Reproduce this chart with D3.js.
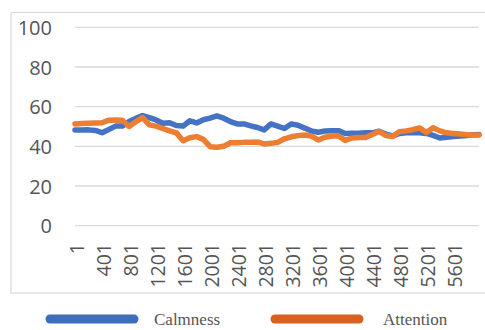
<!DOCTYPE html>
<html><head><meta charset="utf-8">
<script src="https://cdn.jsdelivr.net/npm/d3@7"></script>
<style>body{margin:0;background:#fff}svg{display:block}</style>
</head><body>
<svg id="c" width="485" height="330"></svg>
<script>
const sampleIndex = [1,101,201,301,401,501,601,701,801,901,1001,1101,1201,1301,1401,1501,1601,1701,1801,1901,2001,2101,2201,2301,2401,2501,2601,2701,2801,2901,3001,3101,3201,3301,3401,3501,3601,3701,3801,3901,4001,4101,4201,4301,4401,4501,4601,4701,4801,4901,5001,5101,5201,5301,5401,5501,5601,5701,5801,5901,5981];
const calmness = [48.2,48.2,48.3,48.0,46.9,48.5,50.2,50.2,52.5,54.1,55.5,54.5,53.3,51.6,51.9,50.5,50.2,52.9,51.8,53.4,54.2,55.3,54.2,52.5,51.3,51.3,50.3,49.5,48.3,51.3,50.2,49.0,51.3,50.6,49.2,47.7,47.1,47.7,47.9,47.9,46.5,46.6,46.6,46.9,46.8,47.6,46.2,45.3,46.4,46.8,46.9,46.8,46.5,45.5,44.2,44.6,45.0,45.2,45.5,45.9,46.0];
const attention = [51.3,51.5,51.7,51.8,51.9,53.2,53.3,53.2,50.0,52.4,54.5,50.8,50.2,49.0,47.8,46.8,42.8,44.3,44.9,43.5,39.8,39.5,40.0,41.8,41.8,42.0,42.1,42.2,41.2,41.5,42.0,43.8,44.8,45.4,45.7,45.2,43.2,44.6,45.2,45.2,43.0,44.2,44.5,44.5,46.0,47.5,45.5,45.0,47.4,47.8,48.4,49.3,47.0,49.4,47.8,46.8,46.5,46.2,45.9,45.7,45.7];
const xTicks = [1,401,801,1201,1601,2001,2401,2801,3201,3601,4001,4401,4801,5201,5601];
const yTicks = [0,20,40,60,80,100];
const seriesNames = ["Calmness","Attention"];

const svg = d3.select("#c");
// outer chart border
svg.append("rect").attr("x",11).attr("y",12.5).attr("width",490).attr("height",280.5)
  .attr("fill","none").attr("stroke","#d9d9d9").attr("stroke-width",1.2);

const x = d3.scaleLinear().domain([1,5981]).range([75,479]);
const y = d3.scaleLinear().domain([0,100]).range([225.7,27.3]);

// gridlines
svg.append("g").selectAll("line").data(yTicks).join("line")
  .attr("x1",75).attr("x2",479).attr("y1",d=>y(d)).attr("y2",d=>y(d))
  .attr("stroke","#d9d9d9").attr("stroke-width",1.3);

// y axis labels
const yAxis = d3.axisLeft(y).tickValues(yTicks).tickSize(0).tickPadding(0);
const ya = svg.append("g").attr("transform","translate(52,0)").call(yAxis);
ya.select(".domain").remove();
ya.selectAll("text").attr("font-family","'Open Sans'").attr("font-size",20).attr("fill","#555").attr("dy","0.36em");

// x axis labels
const xAxis = d3.axisBottom(x).tickValues(xTicks).tickFormat(d3.format("d")).tickSize(0).tickPadding(0);
const xa = svg.append("g").attr("transform","translate(0,243)").call(xAxis);
xa.select(".domain").remove();
xa.selectAll("text").attr("font-family","'Open Sans'").attr("font-size",19.5).attr("fill","#555")
  .attr("transform","rotate(-90)").attr("text-anchor","end").attr("x",0).attr("y",0).attr("dy","0.36em").attr("dx","0");
xa.selectAll(".tick").attr("transform",d=>`translate(${x(d)+2},0)`);

const line = d3.line().x((d,i)=>x(sampleIndex[i])).y(d=>y(d)).curve(d3.curveLinear);
const colors = ["#4472C4","#ED7D31"];
[calmness, attention].forEach((s,k)=>{
  svg.append("path").datum(s).attr("d",line).attr("fill","none")
    .attr("stroke",colors[k]).attr("stroke-width",5.5).attr("stroke-linejoin","round").attr("stroke-linecap","round");
});

// legend
const legendColors = ["#3d6dbd","#d9611f"];
const leg = [{x1:50,x2:134,tx:154},{x1:275,x2:359,tx:383}];
leg.forEach((l,k)=>{
  svg.append("line").attr("x1",l.x1).attr("x2",l.x2).attr("y1",319).attr("y2",319)
    .attr("stroke",legendColors[k]).attr("stroke-width",9).attr("stroke-linecap","round");
  svg.append("text").attr("x",l.tx).attr("y",319).attr("dy","0.35em")
    .attr("font-family","'Liberation Serif'").attr("font-size",17).attr("fill","#555")
    .text(seriesNames[k]);
});
</script>
</body></html>
